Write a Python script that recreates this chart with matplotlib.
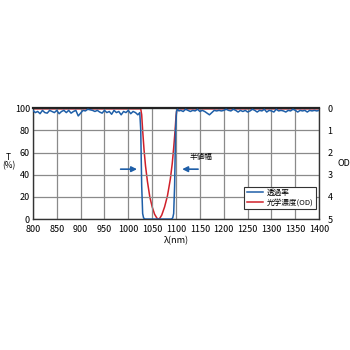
import numpy as np
import matplotlib
matplotlib.use("Agg")
import matplotlib.pyplot as plt

plt.rcParams["font.family"] = ["Noto Sans CJK JP", "DejaVu Sans"]

# transmittance (%) vs wavelength (nm)
wl_t = [800, 805, 810, 815, 820, 825, 830, 835, 840, 845, 850, 855, 860, 865,
        870, 875, 880, 885, 890, 895, 900, 905, 910, 915, 920, 925, 930, 935,
        940, 945, 950, 955, 960, 965, 970, 975, 980, 985, 990, 995, 1000, 1005,
        1010, 1015, 1020, 1024, 1026, 1028, 1030, 1032, 1035, 1060, 1090, 1093,
        1095, 1097, 1099, 1101, 1103, 1106, 1110, 1115, 1120, 1125, 1130, 1135,
        1140, 1145, 1150, 1155, 1160, 1165, 1170, 1175, 1180, 1185, 1190, 1195,
        1200, 1205, 1210, 1215, 1220, 1225, 1230, 1235, 1240, 1245, 1250, 1255,
        1260, 1265, 1270, 1275, 1280, 1285, 1290, 1295, 1300, 1305, 1310, 1315,
        1320, 1325, 1330, 1335, 1340, 1345, 1350, 1355, 1360, 1365, 1370, 1375,
        1380, 1385, 1390, 1395, 1400]
trans = [98, 96, 97, 95, 98, 96, 95.5, 98, 97, 96, 98, 95, 97, 98, 96, 98, 95.5,
         97, 98, 93, 95.5, 98, 97.5, 99, 98.5, 98, 97, 98, 96.5, 95.5, 98, 96, 97, 94.5,
         98, 96, 97, 94, 97, 96, 98, 95, 97, 96, 94, 96, 80, 30, 5, 1, 0, 0,
         0, 1, 5, 30, 80, 97, 99, 97.5, 98, 97, 99, 98, 97, 98, 97.5, 99, 97, 98,
         97, 95.5, 94, 96, 98, 97.5, 98, 97.5, 98, 99, 98, 97.5, 99, 98, 96.5, 98, 97,
         98, 96.5, 97.5, 99, 98, 96.5, 98, 97.5, 99, 96.5, 98, 97.5, 96.5, 99, 97.5, 98, 97.5,
         96.5, 98, 97.5, 99, 98, 96.5, 98, 97.5, 98, 96.5, 98, 97.5, 98, 97.5, 98]

# optical density vs wavelength (nm)
wl_od = [800, 1026, 1028, 1030, 1033, 1036, 1040, 1045, 1050, 1055, 1060,
         1063, 1066, 1070, 1076, 1082, 1088, 1092, 1095, 1098, 1100, 1102, 1400]
od = [0.03, 0.03, 0.3, 1.0, 1.9, 2.6, 3.3, 4.0, 4.45, 4.78, 4.96, 5.0, 4.96,
      4.82, 4.45, 3.95, 3.2, 2.5, 1.8, 1.0, 0.35, 0.03, 0.03]

x_ticks = list(range(800, 1401, 50))
t_ticks = [0, 20, 40, 60, 80, 100]
od_ticks = [0, 1, 2, 3, 4, 5]

blue = "#1f5fa8"
red = "#d0202a"

fig = plt.figure(figsize=(3.5, 3.5), dpi=100)
ax = fig.add_axes([0.094, 0.374, 0.818, 0.317])
ax.set_xlim(800, 1400)
ax.set_ylim(0, 100)
ax.set_xticks(x_ticks)
ax.set_yticks(t_ticks)
ax.grid(True, color="#8a8a8a", linewidth=0.9)
ax.set_axisbelow(True)
for s in ax.spines.values():
    s.set_color("#333333")
    s.set_linewidth(1.0)
ax.spines["top"].set_linewidth(1.6)
ax.spines["top"].set_color("#222222")
ax.tick_params(axis="y", length=0, labelsize=6.5, pad=2)
ax.tick_params(axis="x", length=0, labelsize=6.5, pad=4)

ax2 = ax.twinx()
ax2.set_ylim(5, 0)
ax2.set_yticks(od_ticks)
ax2.tick_params(length=0, labelsize=6.5, pad=6)
for s in ax2.spines.values():
    s.set_visible(False)

ax2.plot(wl_od, od, color=red, linewidth=1.1, zorder=3, solid_joinstyle="round")
ax.plot(wl_t, trans, color=blue, linewidth=1.1, zorder=4, solid_joinstyle="round")

ax.set_zorder(ax2.get_zorder() + 1)
ax.patch.set_visible(False)

# half-width arrows
ax.annotate("", xy=(1024, 45), xytext=(978, 45),
            arrowprops=dict(arrowstyle="-|>", color=blue, lw=1.2, mutation_scale=8))
ax.annotate("", xy=(1107, 45), xytext=(1152, 45),
            arrowprops=dict(arrowstyle="-|>", color=blue, lw=1.2, mutation_scale=8))
ax.text(1152, 52, "半値幅", fontsize=5.5, ha="center", va="bottom")

ax.text(-0.085, 0.52, "T\n(%)", transform=ax.transAxes, fontsize=6,
        ha="center", va="center", linespacing=0.9)
ax.text(1.085, 0.5, "OD", transform=ax.transAxes, fontsize=6.5,
        ha="center", va="center")
ax.set_xlabel("λ(nm)", fontsize=6.5, labelpad=2)

h1, = ax.plot([], [], color=blue, linewidth=1.1, label="透過率")
h2, = ax.plot([], [], color=red, linewidth=1.1, label="光学濃度(OD)")
leg = ax.legend(handles=[h1, h2], loc="lower right", bbox_to_anchor=(0.995, 0.08),
                fontsize=5.5, frameon=True, fancybox=False, handlelength=2.2,
                borderpad=0.3, labelspacing=0.2, handletextpad=0.5,
                borderaxespad=0.2)
leg.get_frame().set_edgecolor("#333333")
leg.get_frame().set_linewidth(0.8)
leg.get_frame().set_alpha(1)

fig.savefig("out.png", dpi=100, facecolor="white")
